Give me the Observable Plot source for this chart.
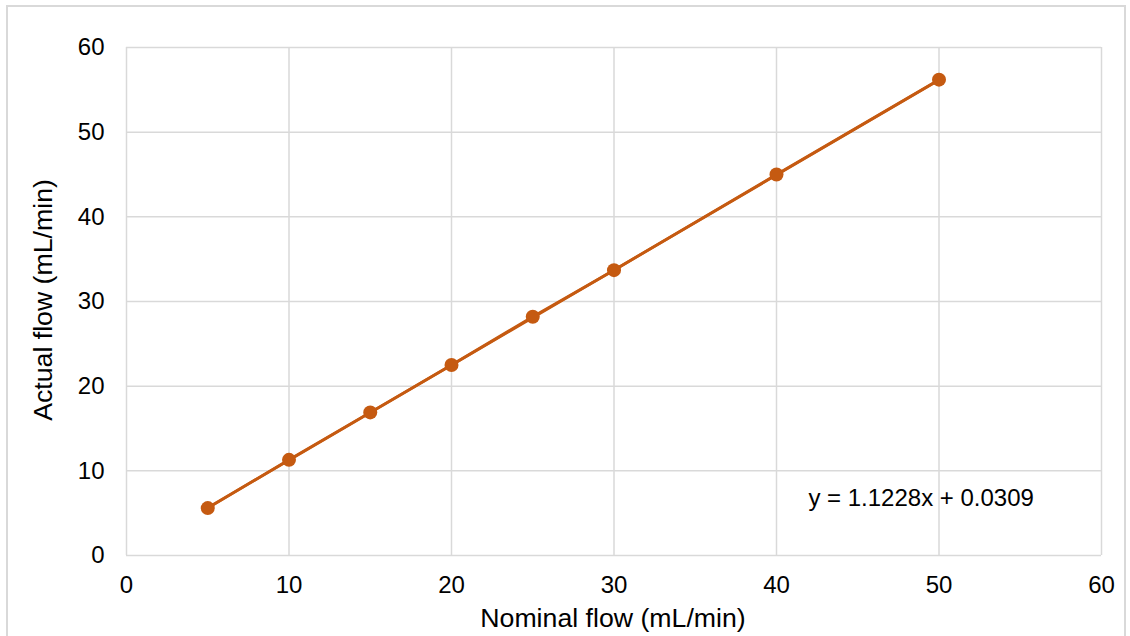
<!DOCTYPE html>
<html>
<head>
<meta charset="utf-8">
<script src="https://cdn.jsdelivr.net/npm/d3@7"></script>
<script src="https://cdn.jsdelivr.net/npm/@observablehq/plot@0.6"></script>
<style>
  html, body { margin: 0; padding: 0; background: #fff; }
  #wrap { position: relative; width: 1130px; height: 636px; overflow: hidden; }
  #border { position: absolute; left: 6px; top: 5px; width: 1120px; height: 640px; border: 2px solid #d9d9d9; box-sizing: border-box; }
  #chart { position: absolute; left: 0; top: 0; }
</style>
</head>
<body>
<div id="wrap"><div id="border"></div><div id="chart"></div></div>
<script>
const nominal = [5, 10, 15, 20, 25, 30, 40, 50];
const actual = [5.6, 11.3, 16.9, 22.5, 28.2, 33.7, 45.0, 56.2];
const slope = 1.1228, intercept = 0.0309;
const xTicks = [0, 10, 20, 30, 40, 50, 60];
const yTicks = [0, 10, 20, 30, 40, 50, 60];
const equationLabel = "y = 1.1228x + 0.0309";
const xTitle = "Nominal flow (mL/min)";
const yTitle = "Actual flow (mL/min)";

const data = nominal.map((x, i) => ({x, y: actual[i]}));
const trend = [nominal[0], nominal[nominal.length - 1]].map(x => ({x, y: slope * x + intercept}));
const color = "#C55A11";
const grid = "#d9d9d9";
const font = "'Liberation Sans', Arial, sans-serif";

const plot = Plot.plot({
  width: 1130,
  height: 636,
  marginLeft: 126,
  marginRight: 29,
  marginTop: 47,
  marginBottom: 81,
  style: {fontFamily: font, fontSize: "24px", color: "#000", background: "transparent"},
  x: {domain: [0, 60], ticks: xTicks, label: null},
  y: {domain: [0, 60], ticks: yTicks, label: null},
  marks: [
    Plot.gridX(xTicks, {stroke: grid, strokeOpacity: 1, strokeWidth: 1.5}),
    Plot.gridY(yTicks, {stroke: grid, strokeOpacity: 1, strokeWidth: 1.5}),
    Plot.axisX(xTicks, {tickSize: 0, tickPadding: 20, fontSize: 24, label: null}),
    Plot.axisY(yTicks, {tickSize: 0, tickPadding: 22, fontSize: 24, label: null}),
    Plot.line(trend, {x: "x", y: "y", stroke: color, strokeWidth: 2.8}),
    Plot.line(data, {x: "x", y: "y", stroke: color, strokeWidth: 2.8}),
    Plot.dot(data, {x: "x", y: "y", r: 7, fill: color, stroke: "none"}),
    Plot.text([equationLabel], {x: () => 48.9, y: () => 6.73, fontSize: 24, fill: "#000", textAnchor: "middle"})
  ]
});
document.getElementById("chart").appendChild(plot);

// axis titles
const svg = d3.select(plot);
svg.append("text").attr("x", 613).attr("y", 620).attr("text-anchor", "middle")
  .attr("font-size", 26.7).attr("font-family", font).attr("dominant-baseline", "middle").text(xTitle);
svg.append("text").attr("transform", "translate(45,300) rotate(-90)").attr("text-anchor", "middle")
  .attr("font-size", 26.7).attr("font-family", font).attr("dominant-baseline", "middle").text(yTitle);
</script>
</body>
</html>
